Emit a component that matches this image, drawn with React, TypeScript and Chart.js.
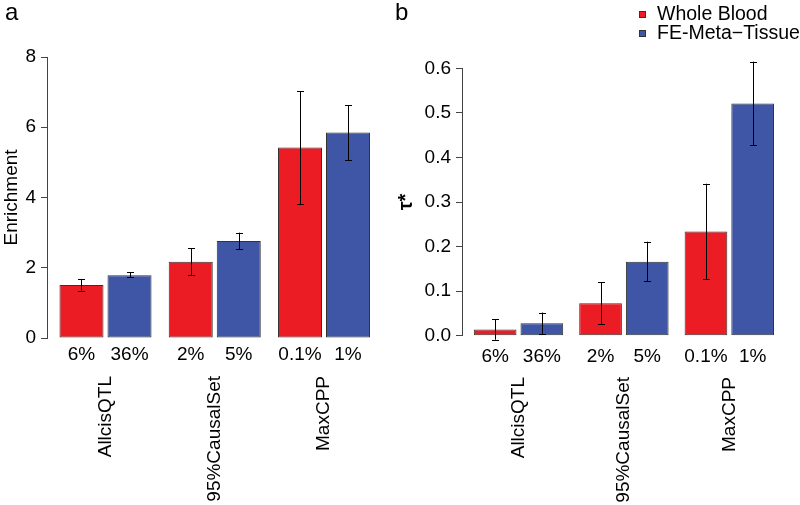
import React, { useEffect, useRef } from "react";
import { Chart, registerables } from "chart.js";

Chart.register(...registerables);

const FONT = "'Liberation Sans', Arial, Helvetica, sans-serif";

// ---- data ----
const groupLabels = ["AllcisQTL", "95%CausalSet", "MaxCPP"];
const seriesLabels = ["Whole Blood", "FE-Meta\u2212Tissue"];
const bloodPct = ["6%", "2%", "0.1%"];
const tissuePct = ["36%", "5%", "1%"];

const enrichBlood = [1.51, 2.17, 5.42];
const enrichBloodLo = [1.35, 1.79, 3.82];
const enrichBloodHi = [1.67, 2.55, 7.03];
const enrichTissue = [1.79, 2.76, 5.85];
const enrichTissueLo = [1.73, 2.53, 5.07];
const enrichTissueHi = [1.87, 3.0, 6.63];
const enrichTicks = [0, 2, 4, 6, 8];

const tauBlood = [0.014, 0.073, 0.234];
const tauBloodLo = [-0.009, 0.027, 0.127];
const tauBloodHi = [0.037, 0.12, 0.341];
const tauTissue = [0.028, 0.166, 0.521];
const tauTissueLo = [0.003, 0.122, 0.427];
const tauTissueHi = [0.052, 0.211, 0.615];
const tauTicks = [0, 0.1, 0.2, 0.3, 0.4, 0.5, 0.6];

const RED = "#EC1C24";
const BLUE = "#3F55A5";
const EDGE = "#333333";

type Spec = {
  id: string;
  left: number;
  width: number;
  axisWidth: number;
  xMin: number;
  xMax: number;
  padTop: number;
  padRight: number;
  xHeight: number;
  catPct: number;
  barPct: number;
  blood: number[];
  bloodLo: number[];
  bloodHi: number[];
  tissue: number[];
  tissueLo: number[];
  tissueHi: number[];
  yTicks: number[];
  decimals: number;
  yTitle: string;
  yTitleSize: number;
  yTitleWeight: string;
  yTitlePad: number;
  pctBaseline: number;
  groupTop: number;
  panelLabel: string;
  panelX: number;
  legend: boolean;
  legendX: number;
};

function decorPlugin(s: Spec) {
  const los = [s.bloodLo, s.tissueLo];
  const his = [s.bloodHi, s.tissueHi];
  const pcts = [bloodPct, tissuePct];
  return {
    id: "decor_" + s.id,
    afterDatasetsDraw(chart: any) {
      const ctx = chart.ctx;
      const y = chart.scales.y;
      ctx.save();
      ctx.strokeStyle = "#000";
      ctx.lineWidth = 1;
      chart.data.datasets.forEach((_ds: any, i: number) => {
        const meta = chart.getDatasetMeta(i);
        meta.data.forEach((el: any, j: number) => {
          const x = Math.round(el.x) + 0.5;
          const y1 = y.getPixelForValue(los[i][j]);
          const y2 = y.getPixelForValue(his[i][j]);
          ctx.beginPath();
          ctx.moveTo(x, y1);
          ctx.lineTo(x, y2);
          ctx.moveTo(x - 3.5, Math.round(y1) + 0.5);
          ctx.lineTo(x + 3.5, Math.round(y1) + 0.5);
          ctx.moveTo(x - 3.5, Math.round(y2) + 0.5);
          ctx.lineTo(x + 3.5, Math.round(y2) + 0.5);
          ctx.stroke();
        });
      });
      ctx.restore();
    },
    afterDraw(chart: any) {
      const ctx = chart.ctx;
      const xs = chart.scales.x;
      ctx.save();
      ctx.fillStyle = "#000";
      // percentage labels under each bar
      ctx.font = `19px ${FONT}`;
      ctx.textAlign = "center";
      ctx.textBaseline = "alphabetic";
      chart.data.datasets.forEach((_ds: any, i: number) => {
        const meta = chart.getDatasetMeta(i);
        meta.data.forEach((el: any, j: number) => {
          ctx.fillText(pcts[i][j], el.x, s.pctBaseline);
        });
      });
      // rotated group labels
      groupLabels.forEach((g, j) => {
        const x = xs.getPixelForValue(j + 1);
        ctx.save();
        ctx.translate(x, s.groupTop);
        ctx.rotate(-Math.PI / 2);
        ctx.textAlign = "right";
        ctx.textBaseline = "middle";
        ctx.fillText(g, 0, 0);
        ctx.restore();
      });
      // panel label
      ctx.font = `24px ${FONT}`;
      ctx.textAlign = "left";
      ctx.textBaseline = "alphabetic";
      ctx.fillText(s.panelLabel, s.panelX, 20);
      // legend
      if (s.legend) {
        ctx.font = `19.5px ${FONT}`;
        chart.data.datasets.forEach((ds: any, i: number) => {
          const cy = 14.5 + i * 19;
          ctx.fillStyle = ds.backgroundColor;
          ctx.fillRect(s.legendX, cy - 3.5, 7, 7);
          ctx.strokeStyle = EDGE;
          ctx.lineWidth = 1;
          ctx.strokeRect(s.legendX + 0.5, cy - 3, 6, 6);
          ctx.fillStyle = "#000";
          ctx.fillText(ds.label, s.legendX + 18, cy + 5.5);
        });
      }
      ctx.restore();
    },
  };
}

function buildConfig(s: Spec): any {
  const toPts = (vals: number[]) => vals.map((v, j) => ({ x: j + 1, y: v }));
  const common = {
    borderColor: EDGE,
    borderWidth: 1,
    borderSkipped: false,
    categoryPercentage: s.catPct,
    barPercentage: s.barPct,
  };
  return {
    type: "bar",
    data: {
      labels: groupLabels,
      datasets: [
        { label: seriesLabels[0], data: toPts(s.blood), backgroundColor: RED, ...common },
        { label: seriesLabels[1], data: toPts(s.tissue), backgroundColor: BLUE, ...common },
      ],
    },
    options: {
      responsive: false,
      animation: false,
      events: [],
      layout: { padding: { top: s.padTop, right: s.padRight, bottom: 0, left: 0 } },
      plugins: { legend: { display: false }, tooltip: { enabled: false }, title: { display: false } },
      scales: {
        x: {
          type: "linear",
          min: s.xMin,
          max: s.xMax,
          offset: false,
          grid: { display: false },
          border: { display: false },
          ticks: { display: false },
          afterBuildTicks: (sc: any) => {
            sc.ticks = groupLabels.map((_g, j) => ({ value: j + 1 }));
          },
          afterFit: (sc: any) => {
            sc.height = s.xHeight;
          },
        },
        y: {
          min: s.yTicks[0],
          max: s.yTicks[s.yTicks.length - 1],
          afterBuildTicks: (sc: any) => {
            sc.ticks = s.yTicks.map((v) => ({ value: v }));
          },
          afterFit: (sc: any) => {
            sc.width = s.axisWidth;
          },
          ticks: {
            font: { family: FONT, size: 19 },
            color: "#000",
            padding: 5,
            callback: (v: any) => Number(v).toFixed(s.decimals),
          },
          grid: { drawOnChartArea: false, drawTicks: true, tickLength: 6, color: "#444", lineWidth: 1 },
          border: { display: true, color: "#444", width: 1 },
          title: {
            display: true,
            text: s.yTitle,
            color: "#000",
            font: { family: FONT, size: s.yTitleSize, weight: s.yTitleWeight },
            padding: { top: s.yTitlePad, bottom: 0 },
          },
        },
      },
    },
    plugins: [decorPlugin(s)],
  };
}

const leftSpec: Spec = {
  id: "a",
  left: 0,
  width: 400,
  axisWidth: 47,
  xMin: 0.4645,
  xMax: 3.5355,
  padTop: 57,
  padRight: 17.5,
  xHeight: 167,
  catPct: 0.879,
  barPct: 0.917,
  blood: enrichBlood,
  bloodLo: enrichBloodLo,
  bloodHi: enrichBloodHi,
  tissue: enrichTissue,
  tissueLo: enrichTissueLo,
  tissueHi: enrichTissueHi,
  yTicks: enrichTicks,
  decimals: 0,
  yTitle: "Enrichment",
  yTitleSize: 19,
  yTitleWeight: "normal",
  yTitlePad: 0.5,
  pctBaseline: 360,
  groupTop: 376,
  panelLabel: "a",
  panelX: 5,
  legend: false,
  legendX: 0,
};

const rightSpec: Spec = {
  id: "b",
  left: 390,
  width: 410,
  axisWidth: 72,
  xMin: 0.464,
  xMax: 3.536,
  padTop: 68.3,
  padRight: 14.2,
  xHeight: 169.3,
  catPct: 0.886,
  barPct: 0.914,
  blood: tauBlood,
  bloodLo: tauBloodLo,
  bloodHi: tauBloodHi,
  tissue: tauTissue,
  tissueLo: tauTissueLo,
  tissueHi: tauTissueHi,
  yTicks: tauTicks,
  decimals: 1,
  yTitle: "\u03C4*",
  yTitleSize: 20,
  yTitleWeight: "bold",
  yTitlePad: 4,
  pctBaseline: 361.5,
  groupTop: 377,
  panelLabel: "b",
  panelX: 5,
  legend: true,
  legendX: 249,
};

function Panel({ spec }: { spec: Spec }) {
  const ref = useRef<HTMLCanvasElement>(null);
  useEffect(() => {
    const chart = new Chart(ref.current as HTMLCanvasElement, buildConfig(spec));
    return () => chart.destroy();
  }, [spec]);
  return (
    <canvas
      ref={ref}
      width={spec.width}
      height={505}
      style={{ position: "absolute", left: spec.left, top: 0, width: spec.width, height: 505 }}
    />
  );
}

export default function App() {
  return (
    <div style={{ position: "fixed", left: 0, top: 0, width: 800, height: 505, background: "#fff", overflow: "hidden" }}>
      <Panel spec={leftSpec} />
      <Panel spec={rightSpec} />
    </div>
  );
}
